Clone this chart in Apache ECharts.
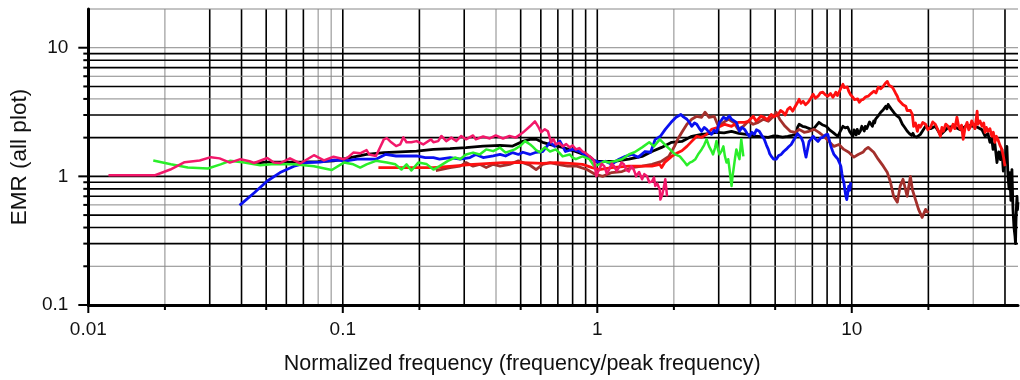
<!DOCTYPE html>
<html><head><meta charset="utf-8">
<script src="https://cdn.jsdelivr.net/npm/echarts@6/dist/echarts.min.js"></script>
<style>html,body{margin:0;padding:0;background:#fff}#c{width:1020px;height:380px}</style>
</head><body><div id="c"></div>
<script>
// ---- tick labels / grid values ----
const xTickLabels = [[0.01,'0.01'],[0.1,'0.1'],[1,'1'],[10,'10']];
const yTickLabels = [[0.1,'0.1'],[1,'1'],[10,'10']];
const xGridDark = [0.03,0.04,0.05,0.06,0.07,0.1,0.2,0.3,0.5,0.6,0.7,0.8,0.9,1,3,4,5,7,8,9,10,20,40];
const xGridLight = [0.02,0.08,0.09,0.4,2,6,30];
const yGridDark = [0.3,0.4,0.5,0.7,0.8,0.9,1,2,3,5,7,8,9];
const yGridLight = [0.2,0.6,4,6,10,20];
const xMajorTicks = [0.01,0.1,1,10];
const xMinorTicks = [0.02,0.05,0.2,0.5,2,5,20];
const yMajorTicks = [0.1,1,10];
const yMinorTicks = [0.2,0.3,0.4,0.5,0.6,0.7,0.8,0.9,2,3,4,5,6,7,8,9];

// ---- series data [normalized frequency, EMR] ----
const blackData = [[0.045,1.27],[0.05,1.29],[0.068,1.29],[0.08,1.30],[0.092,1.32],[0.107,1.40],[0.124,1.48],[0.145,1.53],[0.168,1.55],[0.195,1.57],[0.227,1.62],[0.264,1.64],[0.305,1.67],[0.356,1.72],[0.415,1.74],[0.465,1.72],[0.51,1.87],[0.544,1.94],[0.575,1.94],[0.61,1.84],[0.66,1.76],[0.73,1.68],[0.82,1.56],[0.93,1.43],[0.98,1.31],[1.075,1.31],[1.17,1.31],[1.33,1.36],[1.50,1.43],[1.64,1.56],[1.79,1.68],[1.96,1.84],[2.15,1.87],[2.35,2.05],[2.57,2.12],[2.75,2.15],[2.94,2.20],[3.15,2.18],[3.37,2.24],[3.6,2.16],[3.85,2.12],[4.05,2.08],[4.22,2.05],[4.45,2.03],[4.70,2.01],[4.90,2.06],[5.14,2.05],[5.35,2.02],[5.60,2.05],[5.82,2.08],[6.04,2.12],[6.12,2.40],[6.21,2.54],[6.40,2.45],[6.61,2.41],[6.82,2.35],[7.05,2.32],[7.25,2.48],[7.43,2.63],[7.65,2.52],[7.93,2.45],[8.18,2.30],[8.43,2.20],[8.62,2.12],[8.82,2.05],[9.02,2.25],[9.23,2.45],[9.43,2.38],[9.64,2.41],[9.85,2.20],[10.1,2.05],[10.2,2.30],[10.3,2.25],[10.4,2.10],[10.5,2.32],[10.65,2.15],[10.8,2.24],[10.95,2.45],[11.1,2.40],[11.2,2.25],[11.3,2.45],[11.45,2.35],[11.6,2.50],[11.75,2.65],[11.9,2.54],[12.05,2.45],[12.2,2.70],[12.3,2.60],[12.4,2.78],[12.55,2.70],[12.7,2.95],[12.85,2.85],[13.0,3.15],[13.15,3.05],[13.3,3.30],[13.45,3.40],[13.6,3.51],[13.75,3.35],[13.9,3.63],[14.05,3.50],[14.2,3.45],[14.35,3.30],[14.5,3.32],[14.7,3.10],[14.9,3.21],[15.05,2.95],[15.2,3.00],[15.4,2.85],[15.6,2.78],[15.8,2.55],[16.0,2.58],[16.15,2.40],[16.3,2.41],[16.5,2.25],[16.7,2.28],[16.85,2.15],[17.0,2.20],[17.2,2.08],[17.4,2.16],[17.6,2.05],[17.8,2.12],[18.0,2.02],[18.3,2.05],[18.6,2.12],[19.5,2.45],[20.4,2.35],[21.3,2.45],[22.3,2.10],[23.9,2.40],[25.0,2.45],[26.7,2.30],[28.4,2.50],[30.0,2.45],[31.3,2.40],[32.5,2.30],[33.4,2.05],[34.3,2.15],[34.9,1.84],[35.5,1.95],[35.9,1.62],[36.5,1.80],[37.2,1.28],[37.8,1.55],[38.4,1.35],[38.9,1.62],[39.4,1.10],[40.0,1.13],[40.4,1.45],[40.7,1.71],[41.1,1.00],[41.5,0.80],[41.8,1.07],[42.2,0.65],[42.6,1.13],[43.0,0.554],[43.4,0.40],[43.8,0.34],[44.0,0.30],[44.2,0.45],[44.4,0.60],[44.6,0.70],[44.8,0.55],[45,0.63]];
const brownData = [[0.232,1.11],[0.264,1.17],[0.289,1.20],[0.305,1.28],[0.325,1.20],[0.345,1.24],[0.366,1.17],[0.39,1.24],[0.415,1.20],[0.452,1.24],[0.49,1.32],[0.51,1.28],[0.544,1.22],[0.575,1.13],[0.61,1.24],[0.652,1.28],[0.70,1.24],[0.765,1.20],[0.83,1.20],[0.91,1.13],[0.98,1.04],[1.05,1.0],[1.14,1.07],[1.25,1.09],[1.37,1.17],[1.50,1.20],[1.64,1.24],[1.79,1.31],[1.91,1.43],[2.01,1.71],[2.07,1.94],[2.15,2.20],[2.25,2.54],[2.35,2.78],[2.46,2.93],[2.57,2.88],[2.65,3.15],[2.75,2.88],[2.88,2.93],[2.99,2.45],[3.13,2.63],[3.28,2.78],[3.43,2.63],[3.58,2.32],[3.75,2.45],[3.92,2.68],[4.10,2.54],[4.29,2.63],[4.49,2.78],[4.70,2.68],[4.93,2.93],[5.05,3.15],[5.21,2.78],[5.47,2.45],[5.73,2.24],[6.00,2.20],[6.21,2.32],[6.50,2.20],[6.80,2.24],[7.12,2.32],[7.43,2.20],[7.77,2.05],[8.13,1.87],[8.51,1.71],[8.90,1.77],[9.31,1.62],[9.73,1.54],[10.2,1.41],[10.6,1.48],[11.1,1.55],[11.3,1.62],[11.6,1.68],[12.2,1.54],[12.7,1.36],[13.3,1.20],[13.8,1.07],[14.2,0.90],[14.6,0.70],[15.1,0.63],[15.5,0.84],[15.9,0.95],[16.5,0.70],[17.0,1.0],[17.3,0.79],[17.8,0.66],[18.3,0.554],[18.9,0.48],[19.5,0.554],[20.0,0.52]];
const redData = [[0.138,1.17],[0.173,1.17],[0.227,1.17],[0.27,1.20],[0.325,1.24],[0.426,1.28],[0.51,1.28],[0.61,1.26],[0.687,1.28],[0.78,1.26],[0.875,1.24],[0.955,1.17],[1.018,1.13],[1.14,1.17],[1.33,1.20],[1.50,1.20],[1.64,1.20],[1.76,1.24],[1.79,1.17],[1.84,1.28],[1.96,1.43],[2.06,1.52],[2.15,1.58],[2.25,1.71],[2.35,1.87],[2.46,2.05],[2.57,2.01],[2.69,2.12],[2.81,2.32],[2.99,2.41],[3.17,2.54],[3.37,2.45],[3.58,2.63],[3.79,2.63],[3.92,2.68],[4.10,2.93],[4.20,2.70],[4.29,2.78],[4.40,2.95],[4.53,2.88],[4.65,2.75],[4.83,3.03],[4.95,2.90],[5.14,3.03],[5.25,3.25],[5.37,3.15],[5.48,3.00],[5.60,3.32],[5.72,3.45],[5.86,3.21],[5.95,3.40],[6.04,3.51],[6.12,3.75],[6.21,3.97],[6.32,3.70],[6.44,3.83],[6.58,3.60],[6.74,3.77],[6.90,4.05],[7.05,4.35],[7.20,4.05],[7.37,4.20],[7.52,4.45],[7.70,4.51],[7.88,4.30],[8.05,4.20],[8.25,4.40],[8.43,4.12],[8.55,4.30],[8.66,4.51],[8.78,4.25],[8.90,4.35],[9.05,4.80],[9.23,5.20],[9.35,4.90],[9.48,4.75],[9.60,4.95],[9.73,4.59],[9.90,4.30],[10.1,4.12],[10.25,3.95],[10.4,3.83],[10.55,4.00],[10.7,3.77],[10.9,3.92],[11.1,3.97],[11.35,4.15],[11.6,4.20],[11.9,4.40],[12.2,4.59],[12.45,4.45],[12.7,4.93],[13.0,4.80],[13.3,5.02],[13.55,5.30],[13.8,5.47],[14.0,5.10],[14.2,5.20],[14.4,4.95],[14.6,4.75],[14.85,4.45],[15.1,4.20],[15.3,3.90],[15.5,3.77],[15.9,3.60],[16.3,3.51],[16.5,3.25],[16.7,3.15],[17.0,3.25],[17.3,3.03],[17.5,2.45],[17.8,2.60],[18.1,2.24],[18.35,2.50],[18.6,2.41],[19.0,2.62],[19.5,2.54],[19.9,2.30],[20.4,2.41],[20.8,2.65],[21.3,2.54],[21.8,2.30],[22.3,2.05],[22.6,2.40],[22.9,2.24],[23.4,2.55],[23.9,2.45],[24.4,2.25],[25.0,2.54],[25.4,2.35],[25.9,2.88],[26.3,2.45],[26.7,2.32],[27.0,2.50],[27.4,1.94],[27.9,2.40],[28.4,2.63],[28.8,2.30],[29.2,2.41],[29.6,2.70],[30.0,2.63],[30.5,2.35],[31.1,3.21],[31.3,2.54],[31.9,2.70],[32.5,2.45],[33.0,2.60],[33.4,2.20],[33.8,2.40],[34.3,2.24],[34.9,2.35],[35.5,2.05],[36.0,2.20],[36.5,1.84],[37.0,2.05],[37.5,1.94],[38.2,1.75],[38.9,1.62],[39.5,1.40],[40.0,1.20]];
const blueData = [[0.0393,0.595],[0.0449,0.746],[0.0505,0.92],[0.0567,1.07],[0.0643,1.20],[0.0724,1.28],[0.0813,1.29],[0.092,1.34],[0.103,1.32],[0.114,1.36],[0.124,1.36],[0.135,1.36],[0.147,1.48],[0.162,1.44],[0.178,1.44],[0.195,1.44],[0.211,1.40],[0.227,1.40],[0.24,1.36],[0.264,1.40],[0.289,1.36],[0.316,1.40],[0.333,1.48],[0.356,1.40],[0.39,1.44],[0.415,1.48],[0.436,1.44],[0.465,1.53],[0.49,1.48],[0.51,1.54],[0.544,1.48],[0.575,1.54],[0.61,1.56],[0.652,1.84],[0.68,1.71],[0.713,1.88],[0.75,1.56],[0.80,1.62],[0.85,1.56],[0.89,1.48],[0.95,1.36],[1.018,1.28],[1.075,1.31],[1.14,1.24],[1.217,1.36],[1.29,1.43],[1.37,1.48],[1.45,1.41],[1.54,1.56],[1.62,1.54],[1.69,1.94],[1.77,2.05],[1.85,2.32],[1.95,2.63],[2.04,2.88],[2.13,3.03],[2.18,2.90],[2.25,2.78],[2.31,2.60],[2.35,2.45],[2.41,2.60],[2.46,2.54],[2.52,2.35],[2.57,2.24],[2.63,2.40],[2.69,2.32],[2.75,2.20],[2.81,2.12],[2.88,2.28],[2.94,2.20],[3.02,2.63],[3.08,2.75],[3.13,2.88],[3.22,2.78],[3.30,2.95],[3.37,2.78],[3.45,2.70],[3.52,2.63],[3.62,2.24],[3.70,2.40],[3.79,2.32],[3.88,2.15],[3.96,2.05],[4.05,2.20],[4.14,2.12],[4.22,2.30],[4.33,2.24],[4.43,2.08],[4.53,1.94],[4.62,1.75],[4.70,1.62],[4.76,1.50],[4.83,1.43],[4.93,1.36],[5.05,1.36],[5.16,1.45],[5.28,1.48],[5.40,1.56],[5.52,1.62],[5.65,1.70],[5.78,1.77],[5.90,1.90],[6.04,2.05],[6.12,2.15],[6.21,2.20],[6.33,2.00],[6.44,1.84],[6.52,1.60],[6.61,1.41],[6.70,1.62],[6.80,1.87],[6.92,1.95],[7.05,2.05],[7.20,1.95],[7.37,1.87],[7.53,1.98],[7.70,2.01],[7.88,2.10],[8.05,2.12],[8.17,1.90],[8.28,1.71],[8.40,1.58],[8.51,1.48],[8.66,1.42],[8.82,1.36],[8.94,1.28],[9.06,1.20],[9.15,1.05],[9.23,0.95],[9.31,0.90],[9.40,0.78],[9.48,0.70],[9.56,0.66],[9.64,0.64],[9.73,0.84],[9.82,0.78],[9.91,0.90]];
const greenData = [[0.018,1.33],[0.0211,1.24],[0.0246,1.17],[0.0295,1.15],[0.0331,1.24],[0.036,1.32],[0.041,1.28],[0.0474,1.22],[0.0537,1.25],[0.0643,1.24],[0.077,1.20],[0.0905,1.12],[0.101,1.28],[0.110,1.24],[0.117,1.17],[0.124,1.24],[0.135,1.32],[0.149,1.28],[0.161,1.24],[0.170,1.13],[0.178,1.24],[0.186,1.11],[0.198,1.28],[0.213,1.25],[0.227,1.13],[0.240,1.20],[0.259,1.32],[0.276,1.40],[0.289,1.36],[0.305,1.48],[0.325,1.53],[0.345,1.48],[0.366,1.62],[0.39,1.57],[0.415,1.67],[0.436,1.53],[0.474,1.62],[0.497,1.72],[0.52,1.88],[0.545,1.77],[0.556,1.71],[0.575,1.60],[0.594,1.54],[0.622,1.68],[0.652,1.56],[0.687,1.62],[0.71,1.52],[0.731,1.43],[0.779,1.48],[0.80,1.40],[0.824,1.36],[0.875,1.43],[0.932,1.36],[0.973,1.20],[1.018,1.24],[1.065,1.31],[1.113,1.28],[1.17,1.31],[1.25,1.36],[1.33,1.48],[1.40,1.54],[1.50,1.68],[1.60,1.84],[1.67,1.71],[1.76,1.94],[1.84,1.77],[1.93,1.62],[2.02,1.48],[2.11,1.43],[2.21,1.28],[2.25,1.22],[2.31,1.28],[2.37,1.31],[2.43,1.36],[2.50,1.50],[2.57,1.62],[2.63,1.75],[2.69,1.94],[2.75,1.71],[2.80,1.60],[2.85,1.48],[2.90,1.66],[2.94,1.88],[2.98,1.62],[3.02,1.48],[3.08,1.58],[3.13,1.71],[3.17,1.45],[3.22,1.28],[3.27,1.36],[3.31,1.13],[3.37,0.84],[3.40,1.0],[3.43,1.13],[3.48,1.40],[3.52,1.62],[3.57,1.48],[3.62,1.36],[3.68,1.94],[3.75,1.43]];
const pinkData = [[0.012,1.02],[0.0145,1.02],[0.0165,1.02],[0.0183,1.02],[0.021,1.13],[0.0239,1.29],[0.0274,1.33],[0.0303,1.41],[0.0328,1.38],[0.036,1.28],[0.0396,1.36],[0.043,1.31],[0.0449,1.27],[0.0505,1.39],[0.0536,1.28],[0.0567,1.27],[0.062,1.38],[0.068,1.26],[0.077,1.46],[0.0843,1.33],[0.092,1.42],[0.101,1.36],[0.105,1.41],[0.110,1.53],[0.117,1.51],[0.124,1.60],[0.127,1.48],[0.135,1.44],[0.145,1.94],[0.149,1.98],[0.155,1.84],[0.162,1.72],[0.168,1.77],[0.173,2.01],[0.178,1.84],[0.186,1.84],[0.195,1.88],[0.207,1.77],[0.222,1.94],[0.227,1.84],[0.237,1.88],[0.244,2.06],[0.255,1.88],[0.267,2.00],[0.279,1.88],[0.292,2.06],[0.305,1.94],[0.325,2.08],[0.333,1.94],[0.356,2.04],[0.378,1.97],[0.399,2.08],[0.426,1.97],[0.452,2.06],[0.478,2.00],[0.51,2.19],[0.544,2.45],[0.569,2.68],[0.585,2.45],[0.601,2.20],[0.622,2.32],[0.64,2.24],[0.658,1.84],[0.672,1.95],[0.687,1.77],[0.71,1.82],[0.731,1.71],[0.755,1.78],[0.779,1.68],[0.80,1.74],[0.824,1.62],[0.85,1.66],[0.875,1.56],[0.90,1.52],[0.932,1.43],[0.955,1.38],[0.973,1.31],[0.991,1.0],[1.005,1.08],[1.018,1.13],[1.04,1.25],[1.065,1.20],[1.09,1.05],[1.113,1.13],[1.14,1.26],[1.164,1.20],[1.19,1.10],[1.217,1.17],[1.245,1.28],[1.272,1.24],[1.30,1.12],[1.330,1.09],[1.36,1.20],[1.39,1.13],[1.41,1.05],[1.42,1.0],[1.46,1.08],[1.50,0.95],[1.53,1.04],[1.57,1.0],[1.60,0.90],[1.64,0.91],[1.67,0.98],[1.69,0.84],[1.72,0.88],[1.76,0.79],[1.77,0.66],[1.80,0.72],[1.83,0.84],[1.85,0.95],[1.87,0.78],[1.88,0.70]];

const FONT = '"Liberation Sans", Arial, sans-serif';
const chart = echarts.init(document.getElementById('c'), null, {renderer: 'canvas'});

function labelFor(list, v) {
  for (const [t, s] of list) if (Math.abs(v - t) / t < 1e-6) return s;
  return '';
}
function vGrid(values, color, width) {
  return {
    type: 'custom', silent: true, z: 1, animation: false, clip: false,
    data: values.map(v => [v, 1]),
    renderItem(params, api) {
      const p = api.coord([api.value(0), 1]);
      const cs = params.coordSys;
      return {type: 'line', shape: {x1: p[0], y1: cs.y, x2: p[0], y2: cs.y + cs.height},
              style: {stroke: color, lineWidth: width}};
    }
  };
}
function hGrid(values, color, width) {
  return {
    type: 'custom', silent: true, z: 1, animation: false, clip: false,
    data: values.map(v => [1, v]),
    renderItem(params, api) {
      const p = api.coord([1, api.value(1)]);
      const cs = params.coordSys;
      return {type: 'line', shape: {x1: cs.x, y1: p[1], x2: cs.x + cs.width, y2: p[1]},
              style: {stroke: color, lineWidth: width}};
    }
  };
}
function xTicks(values, len) {
  return {
    type: 'custom', silent: true, z: 6, animation: false, clip: false,
    data: values.map(v => [v, 1]),
    renderItem(params, api) {
      const p = api.coord([api.value(0), 1]);
      const cs = params.coordSys;
      const y0 = cs.y + cs.height;
      return {type: 'line', shape: {x1: p[0], y1: y0, x2: p[0], y2: y0 + len},
              style: {stroke: '#000', lineWidth: 2}};
    }
  };
}
function yTicks(values, len) {
  return {
    type: 'custom', silent: true, z: 6, animation: false, clip: false,
    data: values.map(v => [1, v]),
    renderItem(params, api) {
      const p = api.coord([1, api.value(1)]);
      const cs = params.coordSys;
      return {type: 'line', shape: {x1: cs.x - len, y1: p[1], x2: cs.x, y2: p[1]},
              style: {stroke: '#000', lineWidth: 2}};
    }
  };
}
function curve(data, color, width, z) {
  return {type: 'line', data: data, showSymbol: false, symbol: 'none', z: z,
          lineStyle: {color: color, width: width, join: 'round'}, animation: false, silent: true};
}

chart.setOption({
  animation: false,
  grid: {left: 83, right: 2, top: 9, bottom: 75, containLabel: false},
  xAxis: {
    type: 'log', logBase: 10, min: 0.01, max: 45, z: 5,
    name: 'Normalized frequency (frequency/peak frequency)',
    nameLocation: 'middle', nameGap: 48,
    nameTextStyle: {fontFamily: FONT, fontSize: 21.5, color: '#111', padding: [0, 62, 0, 0]},
    axisLine: {show: true, lineStyle: {color: '#000', width: 3}},
    axisTick: {show: false}, splitLine: {show: false}, minorTick: {show: false},
    axisLabel: {fontFamily: FONT, fontSize: 19, color: '#111', margin: 15,
                formatter: v => labelFor(xTickLabels, v), showMinLabel: true, showMaxLabel: false}
  },
  yAxis: {
    type: 'log', logBase: 10, min: 0.1, max: 20, z: 5,
    name: 'EMR (all plot)', nameLocation: 'middle', nameGap: 50,
    nameTextStyle: {fontFamily: FONT, fontSize: 22.5, color: '#111'},
    axisLine: {show: true, lineStyle: {color: '#000', width: 3}},
    axisTick: {show: false}, splitLine: {show: false}, minorTick: {show: false},
    axisLabel: {fontFamily: FONT, fontSize: 19, color: '#111', margin: 20,
                formatter: v => labelFor(yTickLabels, v), showMaxLabel: false}
  },
  series: [
    vGrid(xGridLight, '#888', 1),
    vGrid(xGridDark, '#000', 1.6),
    hGrid(yGridLight, '#888', 1),
    hGrid(yGridDark, '#000', 1.6),
    xTicks(xMajorTicks, 8), xTicks(xMinorTicks, 5),
    yTicks(yMajorTicks, 10), yTicks(yMinorTicks, 5),
    curve(blackData, '#000000', 2.8, 2),
    curve(brownData, '#a3302c', 2.8, 3),
    curve(redData, '#ff1010', 2.8, 4),
    curve(blueData, '#0a10f0', 2.8, 5),
    curve(greenData, '#2aee2a', 2.5, 6),
    curve(pinkData, '#f2186a', 2.5, 7)
  ]
});
</script>
</body></html>
